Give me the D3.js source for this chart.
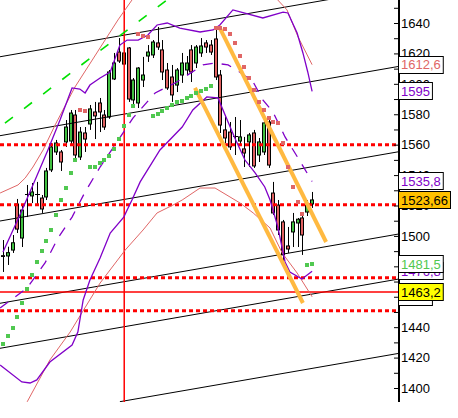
<!DOCTYPE html>
<html><head><meta charset="utf-8">
<script src="https://cdn.jsdelivr.net/npm/d3@7"></script>
<style>html,body{margin:0;padding:0;background:#fff;overflow:hidden}</style>
</head><body>
<svg id="chart" width="458" height="418"></svg>
<script>
// ---------- data ----------
const openP  = [1487.0,1486.8,1490.7,1521.0,1498.6,1527.6,1526.3,1527.6,1524.9,1525.6,
                1543.4,1555.2,1555.2,1561.8,1562.4,1579.5,1551.9,1567.7,1573.6,1581.5,
                1587.4,1579.5,1578.2,1603.2,1620.9,1613.0,1623.6,1589.4,1587.4,1602.5,
                1618.3,1619.0,1626.9,1622.3,1609.1,1604.5,1599.2,1605.8,1609.1,1622.3,
                1613.7,1620.3,1626.9,1625.5,1629.5,1605.8,1569.7,1568.3,1565.7,1562.4,
                1557.2,1561.8,1567.7,1553.2,1555.2,1574.9,1528.2,1520.3,1509.2,1493.4,
                1502.6,1508.5,1511.8,1515.7,1521.0];
const highP  = [1497.3,1492.9,1500.6,1524.3,1520.3,1533.5,1534.8,1535.5,1526.9,1544.7,
                1561.1,1563.1,1556.5,1576.2,1582.8,1582.8,1571.6,1571.6,1586.1,1588.1,
                1590.7,1582.8,1609.1,1620.3,1630.1,1626.9,1624.2,1603.8,1611.0,1617.7,
                1625.5,1628.8,1637.4,1628.8,1613.7,1612.4,1610.4,1620.3,1618.3,1625.5,
                1625.5,1630.1,1628.8,1628.8,1635.4,1609.1,1579.5,1574.9,1578.2,1576.2,
                1565.1,1567.7,1569.7,1564.4,1575.6,1576.2,1535.5,1523.6,1510.5,1505.9,
                1515.1,1511.8,1513.8,1523.6,1528.9];
const lowP   = [1476.3,1480.9,1488.8,1501.9,1492.7,1512.4,1521.6,1520.3,1515.1,1523.6,
                1542.0,1553.2,1542.7,1558.5,1560.4,1549.9,1549.9,1555.2,1569.7,1563.7,
                1568.3,1569.7,1577.0,1602.5,1613.7,1612.4,1588.1,1586.1,1584.1,1597.9,
                1614.4,1617.0,1622.3,1602.5,1596.0,1588.1,1594.6,1600.6,1605.8,1601.2,
                1610.4,1617.7,1620.3,1619.0,1602.5,1567.7,1561.1,1556.5,1553.2,1559.8,
                1545.3,1545.3,1544.7,1548.6,1553.2,1544.7,1513.8,1500.6,1482.9,1488.8,
                1492.7,1492.7,1487.5,1513.1,1518.4];
const closeP = [1486.5,1489.0,1495.5,1504.5,1517.0,1527.4,1528.9,1527.8,1517.7,1542.7,
                1558.5,1561.1,1548.6,1571.6,1580.8,1553.2,1568.3,1563.7,1583.5,1578.9,
                1581.5,1571.6,1607.8,1613.7,1615.0,1620.3,1590.0,1602.5,1610.4,1605.8,
                1620.9,1627.5,1624.2,1607.8,1597.3,1592.7,1609.1,1613.7,1613.7,1607.8,
                1624.2,1624.9,1624.2,1620.9,1604.5,1572.9,1564.4,1558.5,1565.4,1565.1,
                1554.5,1566.4,1546.0,1561.8,1574.3,1546.6,1515.1,1503.9,1487.5,1491.4,
                1509.2,1511.0,1500.6,1520.3,1523.66];
const sarValues = [1428.9,1434.2,1439.5,1446.7,1455.9,1465.1,1474.3,1482.9,1490.1,1496.7,
                1503.9,1513.8,1523.6,1531.5,1541.4,1549.9,1582.8,1582.1,1545.3,1545.3,
                1547.9,1549.9,1552.5,1557.2,1563.7,1572.3,1579.5,1585.4,1632.8,1631.5,
                1630.8,1578.9,1580.2,1582.1,1584.1,1586.1,1588.1,1588.7,1590.7,1592.0,
                1594.0,1595.3,1596.6,1598.6,1636.7,1636.7,1636.1,1632.8,1626.9,1618.3,
                1611.1,1603.8,1596.0,1588.1,1582.8,1577.5,1574.9,1574.3,1561.1,1545.3,
                1532.2,1522.3,1514.4,1481.0,1481.5];

// indicator lines as [bar index, price]
const upperBand = [[0,1489.4],[3.5,1513.8],[6.2,1533.5],[9.3,1556.5],[11.8,1576.2],[14.3,1597.3],
  [15.9,1596.6],[17,1594.0],[18,1599.2],[20.1,1603.8],[22.2,1607.8],[24.2,1625.5],[25.7,1628.8],
  [28,1628.8],[30,1632.1],[31.9,1638.7],[34,1640.0],[36.6,1636.7],[40.8,1634.1],[43.5,1635.4],
  [44.9,1638.7],[47.6,1648.6],[53.8,1643.3],[58,1647.2],[59,1646.6],[60.9,1633.4],[62.1,1620.3],
  [63.1,1607.8],[64,1595.0]];
const middleBand = [[-0.6,1452.6],[5,1465.8],[8.7,1482.2],[11.4,1498.6],[14.3,1512.4],[17,1528.9],
  [20.1,1545.3],[23.2,1559.8],[26.9,1577.5],[31.5,1594.0],[36,1601.2],[41.4,1612.4],[43.9,1613.7],
  [46.6,1612.4],[49,1607.8],[51.8,1601.2],[53.8,1589.4],[55.9,1581.5],[58.4,1565.1],[61.1,1551.2],
  [64,1535.8]];
const lowerBand = [[-0.6,1415.1],[3.9,1404.0],[5.6,1403.3],[7,1405.3],[9.7,1417.1],[14.3,1428.3],
  [15.5,1436.8],[16.6,1457.9],[18,1471.0],[20.1,1485.5],[22.2,1501.9],[25,1512.4],[26.7,1523.6],
  [28.4,1535.5],[32.5,1556.5],[37.1,1571.6],[39.3,1582.8],[42.2,1591.4],[44.5,1590.7],[48,1564.4],
  [50.1,1549.9],[52.2,1541.4],[54.2,1532.2],[55.3,1523.6],[56.9,1505.9],[58.4,1482.9],[59.4,1476.3],
  [61.9,1471.7],[64,1476.8]];
const upperEnvelopeA = [[-0.6,1528.2],[3.1,1533.5],[4.6,1538.1],[6.2,1545.3],[8.3,1556.5],[10.8,1573.0],
  [14.9,1597.9],[23.8,1642.0],[26.7,1655.1]];
const upperEnvelopeB = [[56.9,1655.1],[58.8,1648.6],[61.1,1630.8],[64,1612.6]];
const lowerEnvelope = [[5,1390.9],[9.7,1418.4],[13.9,1436.8],[20.1,1469.0],[25.3,1490.7],[29,1503.9],
  [31.9,1515.1],[35.2,1520.3],[37.1,1523.6],[40.8,1531.5],[43.9,1531.5],[47,1525.6],[49.1,1521.6],
  [51.8,1515.1],[55.3,1505.2],[57.8,1488.8],[60.9,1475.6],[64,1460.0]];

const channelStartIdx = [-0.62,-0.62,-0.62,-0.62,-0.62,24.2];
const channelStartVal = [1617.8,1565.9,1509.8,1455.7,1426.1,1391.0];
const channelEndIdx = 82;
const channelEndVal = [1663.5,1611.5,1555.4,1501.3,1471.7,1422.8];

const greenTrend  = [[0.4,1574.2],[36,1660.1]];
const orangeUpper = [[44.7,1638.0],[66.9,1496.0]];
const orangeLower = [[39.75,1597.3],[62.1,1455.9]];

const dottedLevels = [1560, 1520.5, 1472.5, 1450.8];
const solidLevel = 1463.2;
const markerBar = 25.1;
const axisTicks = d3.range(1400, 1651, 10);

// ---------- scales ----------
const W = 399, H = 402;
const x = d3.scaleLinear().domain([0, 64]).range([3, 312.1]);
const y = d3.scaleLinear().domain([1400, 1640]).range([388, 23]);

const svg = d3.select('#chart');
svg.append('rect').attr('width',458).attr('height',418).attr('fill','#fff');
svg.append('defs').append('clipPath').attr('id','plot')
  .append('rect').attr('x',0).attr('y',0).attr('width',W).attr('height',H);
const g = svg.append('g').attr('clip-path','url(#plot)');

const line = d3.line().x(d => x(d[0])).y(d => y(d[1]));

// ---------- candles ----------
const bars = d3.range(openP.length);
const cg = g.append('g');
cg.selectAll('line.wick').data(bars).join('line')
  .attr('x1', i => Math.round(x(i)) + 0.5).attr('x2', i => Math.round(x(i)) + 0.5)
  .attr('y1', i => y(highP[i])).attr('y2', i => y(lowP[i]))
  .attr('stroke','#000').attr('stroke-width',1);
cg.selectAll('rect.body').data(bars.filter(i => Math.abs(closeP[i]-openP[i]) >= 0.5)).join('rect')
  .attr('x', i => Math.round(x(i)) - 1.5)
  .attr('y', i => y(Math.max(openP[i], closeP[i])))
  .attr('width', 3)
  .attr('height', i => Math.abs(y(openP[i]) - y(closeP[i])))
  .attr('fill', i => closeP[i] >= openP[i] ? '#40c040' : '#e06060')
  .attr('stroke','#000').attr('stroke-width',1);
cg.selectAll('line.doji').data(bars.filter(i => Math.abs(closeP[i]-openP[i]) < 0.5)).join('line')
  .attr('x1', i => Math.round(x(i)) - 2).attr('x2', i => Math.round(x(i)) + 3)
  .attr('y1', i => Math.round(y(closeP[i])) + 0.5).attr('y2', i => Math.round(y(closeP[i])) + 0.5)
  .attr('stroke','#000').attr('stroke-width',1);

// ---------- channel lines ----------
channelStartVal.forEach((v, k) => {
  g.append('path').attr('d', line([[channelStartIdx[k], v],[channelEndIdx, channelEndVal[k]]]))
    .attr('fill','none').attr('stroke','#000').attr('stroke-width',1);
});

// ---------- horizontal levels & marker ----------
dottedLevels.forEach(v => {
  g.append('line').attr('x1',0).attr('x2',W).attr('y1',y(v)).attr('y2',y(v))
    .attr('stroke','#ff0000').attr('stroke-width',3).attr('stroke-dasharray','4,3');
});
g.append('line').attr('x1',0).attr('x2',W).attr('y1',y(solidLevel)).attr('y2',y(solidLevel))
  .attr('stroke','#ff0000').attr('stroke-width',1.5);
g.append('line').attr('x1',x(markerBar)).attr('x2',x(markerBar)).attr('y1',0).attr('y2',H)
  .attr('stroke','#ff0000').attr('stroke-width',1.5);

// ---------- envelopes & bands ----------
[upperEnvelopeA, upperEnvelopeB, lowerEnvelope].forEach(d => {
  g.append('path').attr('d', line(d)).attr('fill','none').attr('stroke','#e06666').attr('stroke-width',1);
});
[upperBand, lowerBand].forEach(d => {
  g.append('path').attr('d', line(d)).attr('fill','none').attr('stroke','#8000c8').attr('stroke-width',1.3);
});
g.append('path').attr('d', line(middleBand)).attr('fill','none').attr('stroke','#8000c8')
  .attr('stroke-width',1.3).attr('stroke-dasharray','10,9');

// green dashed trend
g.append('path').attr('d', line(greenTrend)).attr('fill','none').attr('stroke','#00e000')
  .attr('stroke-width',1.6).attr('stroke-dasharray','10,14');

// orange channel
[orangeUpper, orangeLower].forEach(d => {
  g.append('path').attr('d', line(d)).attr('fill','none').attr('stroke','#ffb940')
    .attr('stroke-width',4).attr('stroke-linecap','butt');
});

// ---------- SAR ----------
g.selectAll('rect.sar').data(bars).join('rect')
  .attr('x', i => Math.round(x(i)) - 2).attr('y', i => Math.round(y(sarValues[i])) - 2)
  .attr('width',4).attr('height',4)
  .attr('fill', i => sarValues[i] < closeP[i] ? '#50c850' : '#e06666');

// ---------- axis ----------
const FONT = "'Liberation Sans Narrow','Liberation Sans',Arial,sans-serif";
const ax = svg.append('g').attr('transform', `translate(${W},0)`)
  .call(d3.axisRight(y).tickValues(axisTicks).tickSize(-5).tickPadding(2)
    .tickFormat(d => d % 20 === 0 ? d : ''));
ax.select('.domain').remove();
ax.selectAll('.tick line').attr('stroke','#000').attr('stroke-width',1);
ax.selectAll('.tick text').attr('font-family', FONT).attr('font-size', 13).attr('fill','#000');
svg.append('line').attr('x1',W).attr('x2',W).attr('y1',0).attr('y2',H)
  .attr('stroke','#000').attr('stroke-width',2);

// ---------- last-value boxes ----------
const fmt = v => String(v).replace('.', ',');
const boxValues = [lowerEnvelope[lowerEnvelope.length-1][1], solidLevel,
                   lowerBand[lowerBand.length-1][1], sarValues[sarValues.length-1],
                   upperEnvelopeB[upperEnvelopeB.length-1][1], upperBand[upperBand.length-1][1],
                   middleBand[middleBand.length-1][1], closeP[closeP.length-1]];
const boxText = ['#e06666','#000','#8000c8','#50c850','#e06666','#8000c8','#8000c8','#000'];
const boxFill = ['#fff','#ffff00','#fff','#fff','#fff','#fff','#fff','#ffc000'];
boxValues.forEach((v, k) => {
  const cy = y(v);
  const bg = svg.append('g');
  const r = bg.append('rect').attr('x', W - 0.5).attr('y', Math.round(cy) - 8.5).attr('height', 17)
    .attr('fill', boxFill[k]).attr('stroke','#000').attr('stroke-width',1);
  const t = bg.append('text').attr('x', W + 2).attr('y', cy).attr('dy','0.36em')
    .attr('font-family', FONT).attr('font-size', 13).attr('fill', boxText[k]).text(fmt(v));
  r.attr('width', t.node().getComputedTextLength() + 5);
});
</script>
</body></html>
